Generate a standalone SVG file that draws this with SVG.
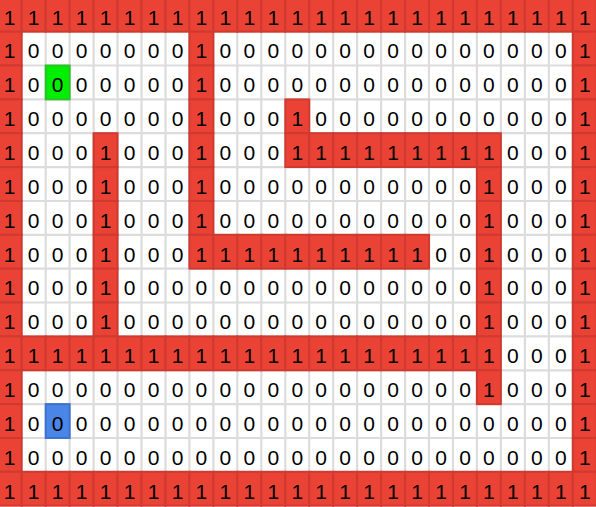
<svg xmlns="http://www.w3.org/2000/svg" xmlns:xlink="http://www.w3.org/1999/xlink" width="596" height="507" viewBox="0 0 596 507">
<style>
.bg{fill:#ffffff}
.grid line{stroke:#dcdcdc;stroke-width:2.2}
.r{fill:#ea4335;stroke:#cf3a30;stroke-width:2}
.g{fill:#00ee00;stroke:#2cc02c;stroke-width:2}
.b{fill:#4a86e8;stroke:#3c72cc;stroke-width:2}
text{font-family:"Liberation Sans",Arial,sans-serif;font-size:21px;text-anchor:middle;fill:#000}
</style>
<defs>
<rect id="c" width="23.96" height="33.86"/>
</defs>
<rect class="bg" x="0" y="0" width="596" height="507"/>
<g id="grid" class="grid">
<line x1="21.7" y1="0" x2="21.7" y2="507"/><line x1="45.7" y1="0" x2="45.7" y2="507"/><line x1="69.6" y1="0" x2="69.6" y2="507"/><line x1="93.6" y1="0" x2="93.6" y2="507"/><line x1="117.5" y1="0" x2="117.5" y2="507"/><line x1="141.5" y1="0" x2="141.5" y2="507"/><line x1="165.5" y1="0" x2="165.5" y2="507"/><line x1="189.4" y1="0" x2="189.4" y2="507"/><line x1="213.4" y1="0" x2="213.4" y2="507"/><line x1="237.3" y1="0" x2="237.3" y2="507"/><line x1="261.3" y1="0" x2="261.3" y2="507"/><line x1="285.3" y1="0" x2="285.3" y2="507"/><line x1="309.2" y1="0" x2="309.2" y2="507"/><line x1="333.2" y1="0" x2="333.2" y2="507"/><line x1="357.1" y1="0" x2="357.1" y2="507"/><line x1="381.1" y1="0" x2="381.1" y2="507"/><line x1="405.1" y1="0" x2="405.1" y2="507"/><line x1="429" y1="0" x2="429" y2="507"/><line x1="453" y1="0" x2="453" y2="507"/><line x1="476.9" y1="0" x2="476.9" y2="507"/><line x1="500.9" y1="0" x2="500.9" y2="507"/><line x1="524.9" y1="0" x2="524.9" y2="507"/><line x1="548.8" y1="0" x2="548.8" y2="507"/><line x1="572.8" y1="0" x2="572.8" y2="507"/>
<line x1="0" y1="31.7" x2="596" y2="31.7"/><line x1="0" y1="65.5" x2="596" y2="65.5"/><line x1="0" y1="99.4" x2="596" y2="99.4"/><line x1="0" y1="133.2" x2="596" y2="133.2"/><line x1="0" y1="167.1" x2="596" y2="167.1"/><line x1="0" y1="201" x2="596" y2="201"/><line x1="0" y1="234.8" x2="596" y2="234.8"/><line x1="0" y1="268.7" x2="596" y2="268.7"/><line x1="0" y1="302.5" x2="596" y2="302.5"/><line x1="0" y1="336.4" x2="596" y2="336.4"/><line x1="0" y1="370.3" x2="596" y2="370.3"/><line x1="0" y1="404.1" x2="596" y2="404.1"/><line x1="0" y1="438" x2="596" y2="438"/><line x1="0" y1="471.8" x2="596" y2="471.8"/>
</g>

<g id="row0" transform="translate(0,-2.2)">
<use href="#c" class="r" x="-2.3"/><use href="#c" class="r" x="21.7"/><use href="#c" class="r" x="45.7"/><use href="#c" class="r" x="69.6"/><use href="#c" class="r" x="93.6"/><use href="#c" class="r" x="117.5"/><use href="#c" class="r" x="141.5"/><use href="#c" class="r" x="165.5"/><use href="#c" class="r" x="189.4"/><use href="#c" class="r" x="213.4"/><use href="#c" class="r" x="237.3"/><use href="#c" class="r" x="261.3"/><use href="#c" class="r" x="285.3"/><use href="#c" class="r" x="309.2"/><use href="#c" class="r" x="333.2"/><use href="#c" class="r" x="357.1"/><use href="#c" class="r" x="381.1"/><use href="#c" class="r" x="405.1"/><use href="#c" class="r" x="429"/><use href="#c" class="r" x="453"/><use href="#c" class="r" x="476.9"/><use href="#c" class="r" x="500.9"/><use href="#c" class="r" x="524.9"/><use href="#c" class="r" x="548.8"/><use href="#c" class="r" x="572.8"/>
<text x="9.7" y="26.8">1</text><text x="33.7" y="26.8">1</text><text x="57.7" y="26.8">1</text><text x="81.6" y="26.8">1</text><text x="105.6" y="26.8">1</text><text x="129.5" y="26.8">1</text><text x="153.5" y="26.8">1</text><text x="177.5" y="26.8">1</text><text x="201.4" y="26.8">1</text><text x="225.4" y="26.8">1</text><text x="249.3" y="26.8">1</text><text x="273.3" y="26.8">1</text><text x="297.3" y="26.8">1</text><text x="321.2" y="26.8">1</text><text x="345.2" y="26.8">1</text><text x="369.1" y="26.8">1</text><text x="393.1" y="26.8">1</text><text x="417.1" y="26.8">1</text><text x="441" y="26.8">1</text><text x="465" y="26.8">1</text><text x="488.9" y="26.8">1</text><text x="512.9" y="26.8">1</text><text x="536.9" y="26.8">1</text><text x="560.8" y="26.8">1</text><text x="584.8" y="26.8">1</text>
</g>

<g id="row1" transform="translate(0,31.7)">
<use href="#c" class="r" x="-2.3"/><use href="#c" class="r" x="189.4"/><use href="#c" class="r" x="572.8"/>
<text x="9.7" y="26.8">1</text><text x="33.7" y="26.8">0</text><text x="57.7" y="26.8">0</text><text x="81.6" y="26.8">0</text><text x="105.6" y="26.8">0</text><text x="129.5" y="26.8">0</text><text x="153.5" y="26.8">0</text><text x="177.5" y="26.8">0</text><text x="201.4" y="26.8">1</text><text x="225.4" y="26.8">0</text><text x="249.3" y="26.8">0</text><text x="273.3" y="26.8">0</text><text x="297.3" y="26.8">0</text><text x="321.2" y="26.8">0</text><text x="345.2" y="26.8">0</text><text x="369.1" y="26.8">0</text><text x="393.1" y="26.8">0</text><text x="417.1" y="26.8">0</text><text x="441" y="26.8">0</text><text x="465" y="26.8">0</text><text x="488.9" y="26.8">0</text><text x="512.9" y="26.8">0</text><text x="536.9" y="26.8">0</text><text x="560.8" y="26.8">0</text><text x="584.8" y="26.8">1</text>
</g>

<g id="row2" transform="translate(0,65.5)">
<use href="#c" class="r" x="-2.3"/><use href="#c" class="g" x="45.7"/><use href="#c" class="r" x="189.4"/><use href="#c" class="r" x="572.8"/>
<text x="9.7" y="26.8">1</text><text x="33.7" y="26.8">0</text><text x="57.7" y="26.8">0</text><text x="81.6" y="26.8">0</text><text x="105.6" y="26.8">0</text><text x="129.5" y="26.8">0</text><text x="153.5" y="26.8">0</text><text x="177.5" y="26.8">0</text><text x="201.4" y="26.8">1</text><text x="225.4" y="26.8">0</text><text x="249.3" y="26.8">0</text><text x="273.3" y="26.8">0</text><text x="297.3" y="26.8">0</text><text x="321.2" y="26.8">0</text><text x="345.2" y="26.8">0</text><text x="369.1" y="26.8">0</text><text x="393.1" y="26.8">0</text><text x="417.1" y="26.8">0</text><text x="441" y="26.8">0</text><text x="465" y="26.8">0</text><text x="488.9" y="26.8">0</text><text x="512.9" y="26.8">0</text><text x="536.9" y="26.8">0</text><text x="560.8" y="26.8">0</text><text x="584.8" y="26.8">1</text>
</g>

<g id="row3" transform="translate(0,99.4)">
<use href="#c" class="r" x="-2.3"/><use href="#c" class="r" x="189.4"/><use href="#c" class="r" x="285.3"/><use href="#c" class="r" x="572.8"/>
<text x="9.7" y="26.8">1</text><text x="33.7" y="26.8">0</text><text x="57.7" y="26.8">0</text><text x="81.6" y="26.8">0</text><text x="105.6" y="26.8">0</text><text x="129.5" y="26.8">0</text><text x="153.5" y="26.8">0</text><text x="177.5" y="26.8">0</text><text x="201.4" y="26.8">1</text><text x="225.4" y="26.8">0</text><text x="249.3" y="26.8">0</text><text x="273.3" y="26.8">0</text><text x="297.3" y="26.8">1</text><text x="321.2" y="26.8">0</text><text x="345.2" y="26.8">0</text><text x="369.1" y="26.8">0</text><text x="393.1" y="26.8">0</text><text x="417.1" y="26.8">0</text><text x="441" y="26.8">0</text><text x="465" y="26.8">0</text><text x="488.9" y="26.8">0</text><text x="512.9" y="26.8">0</text><text x="536.9" y="26.8">0</text><text x="560.8" y="26.8">0</text><text x="584.8" y="26.8">1</text>
</g>

<g id="row4" transform="translate(0,133.2)">
<use href="#c" class="r" x="-2.3"/><use href="#c" class="r" x="93.6"/><use href="#c" class="r" x="189.4"/><use href="#c" class="r" x="285.3"/><use href="#c" class="r" x="309.2"/><use href="#c" class="r" x="333.2"/><use href="#c" class="r" x="357.1"/><use href="#c" class="r" x="381.1"/><use href="#c" class="r" x="405.1"/><use href="#c" class="r" x="429"/><use href="#c" class="r" x="453"/><use href="#c" class="r" x="476.9"/><use href="#c" class="r" x="572.8"/>
<text x="9.7" y="26.8">1</text><text x="33.7" y="26.8">0</text><text x="57.7" y="26.8">0</text><text x="81.6" y="26.8">0</text><text x="105.6" y="26.8">1</text><text x="129.5" y="26.8">0</text><text x="153.5" y="26.8">0</text><text x="177.5" y="26.8">0</text><text x="201.4" y="26.8">1</text><text x="225.4" y="26.8">0</text><text x="249.3" y="26.8">0</text><text x="273.3" y="26.8">0</text><text x="297.3" y="26.8">1</text><text x="321.2" y="26.8">1</text><text x="345.2" y="26.8">1</text><text x="369.1" y="26.8">1</text><text x="393.1" y="26.8">1</text><text x="417.1" y="26.8">1</text><text x="441" y="26.8">1</text><text x="465" y="26.8">1</text><text x="488.9" y="26.8">1</text><text x="512.9" y="26.8">0</text><text x="536.9" y="26.8">0</text><text x="560.8" y="26.8">0</text><text x="584.8" y="26.8">1</text>
</g>

<g id="row5" transform="translate(0,167.1)">
<use href="#c" class="r" x="-2.3"/><use href="#c" class="r" x="93.6"/><use href="#c" class="r" x="189.4"/><use href="#c" class="r" x="476.9"/><use href="#c" class="r" x="572.8"/>
<text x="9.7" y="26.8">1</text><text x="33.7" y="26.8">0</text><text x="57.7" y="26.8">0</text><text x="81.6" y="26.8">0</text><text x="105.6" y="26.8">1</text><text x="129.5" y="26.8">0</text><text x="153.5" y="26.8">0</text><text x="177.5" y="26.8">0</text><text x="201.4" y="26.8">1</text><text x="225.4" y="26.8">0</text><text x="249.3" y="26.8">0</text><text x="273.3" y="26.8">0</text><text x="297.3" y="26.8">0</text><text x="321.2" y="26.8">0</text><text x="345.2" y="26.8">0</text><text x="369.1" y="26.8">0</text><text x="393.1" y="26.8">0</text><text x="417.1" y="26.8">0</text><text x="441" y="26.8">0</text><text x="465" y="26.8">0</text><text x="488.9" y="26.8">1</text><text x="512.9" y="26.8">0</text><text x="536.9" y="26.8">0</text><text x="560.8" y="26.8">0</text><text x="584.8" y="26.8">1</text>
</g>

<g id="row6" transform="translate(0,201)">
<use href="#c" class="r" x="-2.3"/><use href="#c" class="r" x="93.6"/><use href="#c" class="r" x="189.4"/><use href="#c" class="r" x="476.9"/><use href="#c" class="r" x="572.8"/>
<text x="9.7" y="26.8">1</text><text x="33.7" y="26.8">0</text><text x="57.7" y="26.8">0</text><text x="81.6" y="26.8">0</text><text x="105.6" y="26.8">1</text><text x="129.5" y="26.8">0</text><text x="153.5" y="26.8">0</text><text x="177.5" y="26.8">0</text><text x="201.4" y="26.8">1</text><text x="225.4" y="26.8">0</text><text x="249.3" y="26.8">0</text><text x="273.3" y="26.8">0</text><text x="297.3" y="26.8">0</text><text x="321.2" y="26.8">0</text><text x="345.2" y="26.8">0</text><text x="369.1" y="26.8">0</text><text x="393.1" y="26.8">0</text><text x="417.1" y="26.8">0</text><text x="441" y="26.8">0</text><text x="465" y="26.8">0</text><text x="488.9" y="26.8">1</text><text x="512.9" y="26.8">0</text><text x="536.9" y="26.8">0</text><text x="560.8" y="26.8">0</text><text x="584.8" y="26.8">1</text>
</g>

<g id="row7" transform="translate(0,234.8)">
<use href="#c" class="r" x="-2.3"/><use href="#c" class="r" x="93.6"/><use href="#c" class="r" x="189.4"/><use href="#c" class="r" x="213.4"/><use href="#c" class="r" x="237.3"/><use href="#c" class="r" x="261.3"/><use href="#c" class="r" x="285.3"/><use href="#c" class="r" x="309.2"/><use href="#c" class="r" x="333.2"/><use href="#c" class="r" x="357.1"/><use href="#c" class="r" x="381.1"/><use href="#c" class="r" x="405.1"/><use href="#c" class="r" x="476.9"/><use href="#c" class="r" x="572.8"/>
<text x="9.7" y="26.8">1</text><text x="33.7" y="26.8">0</text><text x="57.7" y="26.8">0</text><text x="81.6" y="26.8">0</text><text x="105.6" y="26.8">1</text><text x="129.5" y="26.8">0</text><text x="153.5" y="26.8">0</text><text x="177.5" y="26.8">0</text><text x="201.4" y="26.8">1</text><text x="225.4" y="26.8">1</text><text x="249.3" y="26.8">1</text><text x="273.3" y="26.8">1</text><text x="297.3" y="26.8">1</text><text x="321.2" y="26.8">1</text><text x="345.2" y="26.8">1</text><text x="369.1" y="26.8">1</text><text x="393.1" y="26.8">1</text><text x="417.1" y="26.8">1</text><text x="441" y="26.8">0</text><text x="465" y="26.8">0</text><text x="488.9" y="26.8">1</text><text x="512.9" y="26.8">0</text><text x="536.9" y="26.8">0</text><text x="560.8" y="26.8">0</text><text x="584.8" y="26.8">1</text>
</g>

<g id="row8" transform="translate(0,268.7)">
<use href="#c" class="r" x="-2.3"/><use href="#c" class="r" x="93.6"/><use href="#c" class="r" x="476.9"/><use href="#c" class="r" x="572.8"/>
<text x="9.7" y="26.8">1</text><text x="33.7" y="26.8">0</text><text x="57.7" y="26.8">0</text><text x="81.6" y="26.8">0</text><text x="105.6" y="26.8">1</text><text x="129.5" y="26.8">0</text><text x="153.5" y="26.8">0</text><text x="177.5" y="26.8">0</text><text x="201.4" y="26.8">0</text><text x="225.4" y="26.8">0</text><text x="249.3" y="26.8">0</text><text x="273.3" y="26.8">0</text><text x="297.3" y="26.8">0</text><text x="321.2" y="26.8">0</text><text x="345.2" y="26.8">0</text><text x="369.1" y="26.8">0</text><text x="393.1" y="26.8">0</text><text x="417.1" y="26.8">0</text><text x="441" y="26.8">0</text><text x="465" y="26.8">0</text><text x="488.9" y="26.8">1</text><text x="512.9" y="26.8">0</text><text x="536.9" y="26.8">0</text><text x="560.8" y="26.8">0</text><text x="584.8" y="26.8">1</text>
</g>

<g id="row9" transform="translate(0,302.5)">
<use href="#c" class="r" x="-2.3"/><use href="#c" class="r" x="93.6"/><use href="#c" class="r" x="476.9"/><use href="#c" class="r" x="572.8"/>
<text x="9.7" y="26.8">1</text><text x="33.7" y="26.8">0</text><text x="57.7" y="26.8">0</text><text x="81.6" y="26.8">0</text><text x="105.6" y="26.8">1</text><text x="129.5" y="26.8">0</text><text x="153.5" y="26.8">0</text><text x="177.5" y="26.8">0</text><text x="201.4" y="26.8">0</text><text x="225.4" y="26.8">0</text><text x="249.3" y="26.8">0</text><text x="273.3" y="26.8">0</text><text x="297.3" y="26.8">0</text><text x="321.2" y="26.8">0</text><text x="345.2" y="26.8">0</text><text x="369.1" y="26.8">0</text><text x="393.1" y="26.8">0</text><text x="417.1" y="26.8">0</text><text x="441" y="26.8">0</text><text x="465" y="26.8">0</text><text x="488.9" y="26.8">1</text><text x="512.9" y="26.8">0</text><text x="536.9" y="26.8">0</text><text x="560.8" y="26.8">0</text><text x="584.8" y="26.8">1</text>
</g>

<g id="row10" transform="translate(0,336.4)">
<use href="#c" class="r" x="-2.3"/><use href="#c" class="r" x="21.7"/><use href="#c" class="r" x="45.7"/><use href="#c" class="r" x="69.6"/><use href="#c" class="r" x="93.6"/><use href="#c" class="r" x="117.5"/><use href="#c" class="r" x="141.5"/><use href="#c" class="r" x="165.5"/><use href="#c" class="r" x="189.4"/><use href="#c" class="r" x="213.4"/><use href="#c" class="r" x="237.3"/><use href="#c" class="r" x="261.3"/><use href="#c" class="r" x="285.3"/><use href="#c" class="r" x="309.2"/><use href="#c" class="r" x="333.2"/><use href="#c" class="r" x="357.1"/><use href="#c" class="r" x="381.1"/><use href="#c" class="r" x="405.1"/><use href="#c" class="r" x="429"/><use href="#c" class="r" x="453"/><use href="#c" class="r" x="476.9"/><use href="#c" class="r" x="572.8"/>
<text x="9.7" y="26.8">1</text><text x="33.7" y="26.8">1</text><text x="57.7" y="26.8">1</text><text x="81.6" y="26.8">1</text><text x="105.6" y="26.8">1</text><text x="129.5" y="26.8">1</text><text x="153.5" y="26.8">1</text><text x="177.5" y="26.8">1</text><text x="201.4" y="26.8">1</text><text x="225.4" y="26.8">1</text><text x="249.3" y="26.8">1</text><text x="273.3" y="26.8">1</text><text x="297.3" y="26.8">1</text><text x="321.2" y="26.8">1</text><text x="345.2" y="26.8">1</text><text x="369.1" y="26.8">1</text><text x="393.1" y="26.8">1</text><text x="417.1" y="26.8">1</text><text x="441" y="26.8">1</text><text x="465" y="26.8">1</text><text x="488.9" y="26.8">1</text><text x="512.9" y="26.8">0</text><text x="536.9" y="26.8">0</text><text x="560.8" y="26.8">0</text><text x="584.8" y="26.8">1</text>
</g>

<g id="row11" transform="translate(0,370.3)">
<use href="#c" class="r" x="-2.3"/><use href="#c" class="r" x="476.9"/><use href="#c" class="r" x="572.8"/>
<text x="9.7" y="26.8">1</text><text x="33.7" y="26.8">0</text><text x="57.7" y="26.8">0</text><text x="81.6" y="26.8">0</text><text x="105.6" y="26.8">0</text><text x="129.5" y="26.8">0</text><text x="153.5" y="26.8">0</text><text x="177.5" y="26.8">0</text><text x="201.4" y="26.8">0</text><text x="225.4" y="26.8">0</text><text x="249.3" y="26.8">0</text><text x="273.3" y="26.8">0</text><text x="297.3" y="26.8">0</text><text x="321.2" y="26.8">0</text><text x="345.2" y="26.8">0</text><text x="369.1" y="26.8">0</text><text x="393.1" y="26.8">0</text><text x="417.1" y="26.8">0</text><text x="441" y="26.8">0</text><text x="465" y="26.8">0</text><text x="488.9" y="26.8">1</text><text x="512.9" y="26.8">0</text><text x="536.9" y="26.8">0</text><text x="560.8" y="26.8">0</text><text x="584.8" y="26.8">1</text>
</g>

<g id="row12" transform="translate(0,404.1)">
<use href="#c" class="r" x="-2.3"/><use href="#c" class="b" x="45.7"/><use href="#c" class="r" x="572.8"/>
<text x="9.7" y="26.8">1</text><text x="33.7" y="26.8">0</text><text x="57.7" y="26.8">0</text><text x="81.6" y="26.8">0</text><text x="105.6" y="26.8">0</text><text x="129.5" y="26.8">0</text><text x="153.5" y="26.8">0</text><text x="177.5" y="26.8">0</text><text x="201.4" y="26.8">0</text><text x="225.4" y="26.8">0</text><text x="249.3" y="26.8">0</text><text x="273.3" y="26.8">0</text><text x="297.3" y="26.8">0</text><text x="321.2" y="26.8">0</text><text x="345.2" y="26.8">0</text><text x="369.1" y="26.8">0</text><text x="393.1" y="26.8">0</text><text x="417.1" y="26.8">0</text><text x="441" y="26.8">0</text><text x="465" y="26.8">0</text><text x="488.9" y="26.8">0</text><text x="512.9" y="26.8">0</text><text x="536.9" y="26.8">0</text><text x="560.8" y="26.8">0</text><text x="584.8" y="26.8">1</text>
</g>

<g id="row13" transform="translate(0,438)">
<use href="#c" class="r" x="-2.3"/><use href="#c" class="r" x="572.8"/>
<text x="9.7" y="26.8">1</text><text x="33.7" y="26.8">0</text><text x="57.7" y="26.8">0</text><text x="81.6" y="26.8">0</text><text x="105.6" y="26.8">0</text><text x="129.5" y="26.8">0</text><text x="153.5" y="26.8">0</text><text x="177.5" y="26.8">0</text><text x="201.4" y="26.8">0</text><text x="225.4" y="26.8">0</text><text x="249.3" y="26.8">0</text><text x="273.3" y="26.8">0</text><text x="297.3" y="26.8">0</text><text x="321.2" y="26.8">0</text><text x="345.2" y="26.8">0</text><text x="369.1" y="26.8">0</text><text x="393.1" y="26.8">0</text><text x="417.1" y="26.8">0</text><text x="441" y="26.8">0</text><text x="465" y="26.8">0</text><text x="488.9" y="26.8">0</text><text x="512.9" y="26.8">0</text><text x="536.9" y="26.8">0</text><text x="560.8" y="26.8">0</text><text x="584.8" y="26.8">1</text>
</g>

<g id="row14" transform="translate(0,471.8)">
<use href="#c" class="r" x="-2.3"/><use href="#c" class="r" x="21.7"/><use href="#c" class="r" x="45.7"/><use href="#c" class="r" x="69.6"/><use href="#c" class="r" x="93.6"/><use href="#c" class="r" x="117.5"/><use href="#c" class="r" x="141.5"/><use href="#c" class="r" x="165.5"/><use href="#c" class="r" x="189.4"/><use href="#c" class="r" x="213.4"/><use href="#c" class="r" x="237.3"/><use href="#c" class="r" x="261.3"/><use href="#c" class="r" x="285.3"/><use href="#c" class="r" x="309.2"/><use href="#c" class="r" x="333.2"/><use href="#c" class="r" x="357.1"/><use href="#c" class="r" x="381.1"/><use href="#c" class="r" x="405.1"/><use href="#c" class="r" x="429"/><use href="#c" class="r" x="453"/><use href="#c" class="r" x="476.9"/><use href="#c" class="r" x="500.9"/><use href="#c" class="r" x="524.9"/><use href="#c" class="r" x="548.8"/><use href="#c" class="r" x="572.8"/>
<text x="9.7" y="26.8">1</text><text x="33.7" y="26.8">1</text><text x="57.7" y="26.8">1</text><text x="81.6" y="26.8">1</text><text x="105.6" y="26.8">1</text><text x="129.5" y="26.8">1</text><text x="153.5" y="26.8">1</text><text x="177.5" y="26.8">1</text><text x="201.4" y="26.8">1</text><text x="225.4" y="26.8">1</text><text x="249.3" y="26.8">1</text><text x="273.3" y="26.8">1</text><text x="297.3" y="26.8">1</text><text x="321.2" y="26.8">1</text><text x="345.2" y="26.8">1</text><text x="369.1" y="26.8">1</text><text x="393.1" y="26.8">1</text><text x="417.1" y="26.8">1</text><text x="441" y="26.8">1</text><text x="465" y="26.8">1</text><text x="488.9" y="26.8">1</text><text x="512.9" y="26.8">1</text><text x="536.9" y="26.8">1</text><text x="560.8" y="26.8">1</text><text x="584.8" y="26.8">1</text>
</g>
</svg>
